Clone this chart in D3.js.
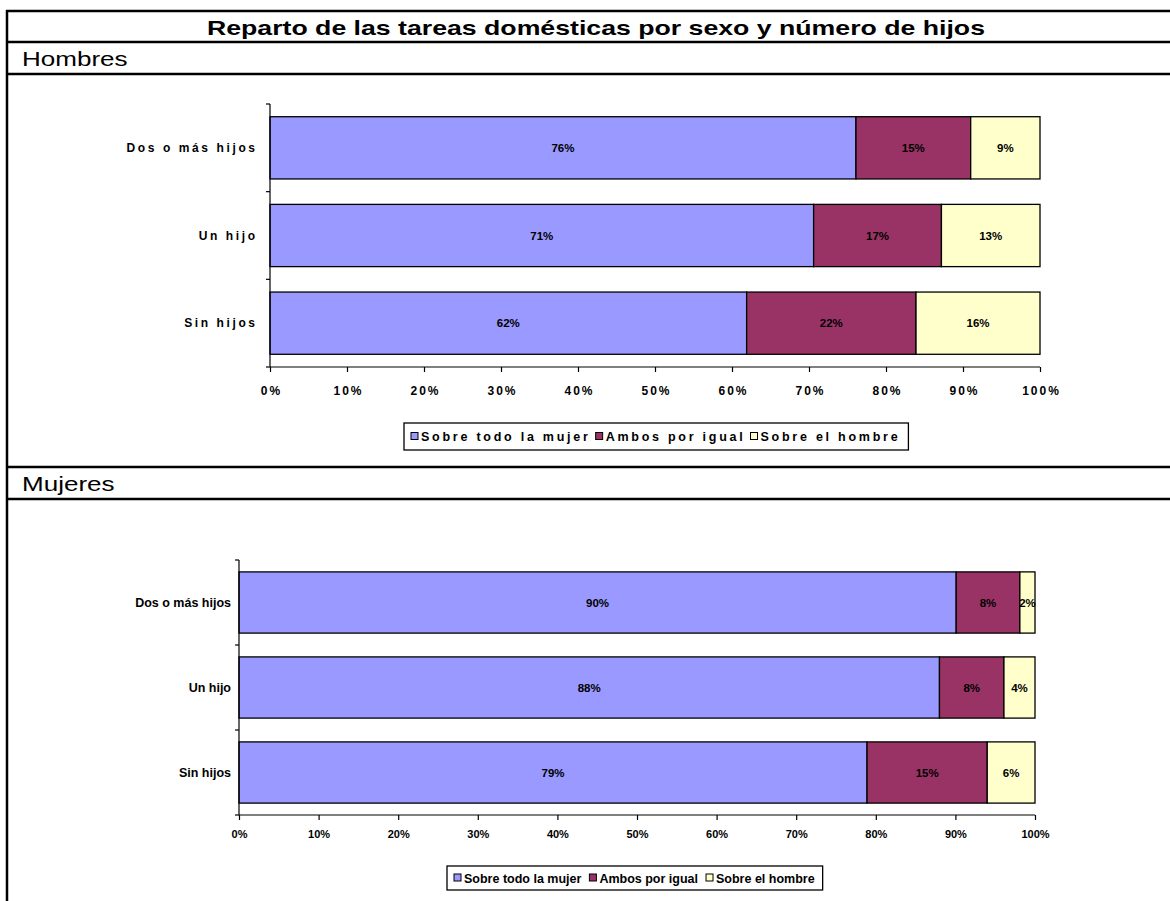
<!DOCTYPE html>
<html><head><meta charset="utf-8">
<script src="https://cdn.jsdelivr.net/npm/d3@7"></script>
<style>body{margin:0;background:#fff}svg{display:block;font-family:"Liberation Sans",Arial,sans-serif}</style>
</head><body><svg id="c" width="1170" height="901"></svg>
<script>
const title = "Reparto de las tareas domésticas por sexo y número de hijos";
const categories = ["Dos o más hijos", "Un hijo", "Sin hijos"];
const seriesNames = ["Sobre todo la mujer", "Ambos por igual", "Sobre el hombre"];
const colors = ["#9999FF", "#993366", "#FFFFCC"];
const ticks = [0, 10, 20, 30, 40, 50, 60, 70, 80, 90, 100];
// Hombres
const hombresMujer = [76.1, 70.6, 61.9];
const hombresAmbos = [14.9, 16.6, 22.0];
const hombresHombre = [9.0, 12.8, 16.1];
// Mujeres
const mujeresMujer = [90.1, 88.0, 78.9];
const mujeresAmbos = [8.0, 8.1, 15.1];
const mujeresHombre = [1.9, 3.9, 6.0];

const svg = d3.select("#c");

// table frame
const frame = svg.append("g").attr("stroke", "#000").attr("stroke-width", 2.5);
[11, 42, 74, 467, 499].forEach(y => frame.append("line").attr("x1", 6).attr("x2", 1170).attr("y1", y).attr("y2", y));
frame.append("line").attr("x1", 7).attr("x2", 7).attr("y1", 10).attr("y2", 901);

function stretchedText(txt, x, y, size, weight, sx, anchor) {
  const t = svg.append("text").attr("font-size", size).attr("font-weight", weight).text(txt);
  const w = t.node().getComputedTextLength() * sx;
  const left = anchor === "middle" ? x - w / 2 : x;
  t.attr("transform", `translate(${left},${y}) scale(${sx},1)`);
  return t;
}
stretchedText(title, 596, 35, 21, "bold", 1.27, "middle");
stretchedText("Hombres", 22, 66, 21, "normal", 1.24, "start");
stretchedText("Mujeres", 22, 491, 21, "normal", 1.24, "start");

function drawChart(cfg, mujer, ambos, hombre) {
  const g = svg.append("g");
  const rows = categories.map((c, i) => ({cat: c, vals: [mujer[i], ambos[i], hombre[i]]}));
  const x = d3.scaleLinear().domain([0, 100]).range([cfg.x0, cfg.x1]);
  const y = d3.scaleBand().domain(categories).range([cfg.y0, cfg.y1]).paddingInner(cfg.pad).paddingOuter(cfg.pad / 2);
  const stack = d3.stack().keys([0, 1, 2]).value((d, k) => d.vals[k]);
  const layers = stack(rows);
  layers.forEach((layer, k) => {
    g.append("g").selectAll("rect").data(layer).join("rect")
      .attr("x", d => x(d[0])).attr("width", d => x(d[1]) - x(d[0]))
      .attr("y", d => y(d.data.cat)).attr("height", y.bandwidth())
      .attr("fill", colors[k]).attr("stroke", "#000").attr("stroke-width", 1.3);
    g.append("g").selectAll("text").data(layer).join("text")
      .attr("x", d => (x(d[0]) + x(d[1])) / 2).attr("y", d => y(d.data.cat) + y.bandwidth() / 2 + 4)
      .attr("text-anchor", "middle").attr("font-size", cfg.valSize).attr("font-weight", "bold")
      .text(d => Math.round(d.data.vals[k]) + "%");
  });
  // y axis
  const ya = g.append("g").attr("stroke", "#000").attr("stroke-width", 1.2);
  ya.append("line").attr("x1", cfg.x0).attr("x2", cfg.x0).attr("y1", cfg.y0).attr("y2", cfg.y1);
  const bounds = [cfg.y0].concat(categories.map(c => y(c) - y.step() * y.paddingInner() / 2 + y.step()));
  bounds.forEach(b => ya.append("line").attr("x1", cfg.x0 - 4).attr("x2", cfg.x0).attr("y1", b).attr("y2", b));
  g.append("g").selectAll("text").data(categories).join("text")
    .attr("x", cfg.x0 - cfg.labGap + cfg.ls).attr("y", d => y(d) + y.bandwidth() / 2 + 4)
    .attr("text-anchor", "end").attr("font-size", cfg.labSize).attr("font-weight", "bold")
    .attr("letter-spacing", cfg.ls).text(d => d);
  // x axis
  const xa = d3.axisBottom(x).tickValues(ticks).tickSize(5).tickFormat(d => d + "%");
  const xg = g.append("g").attr("transform", `translate(0,${cfg.y1})`).call(xa);
  xg.select(".domain").attr("stroke", "#000").attr("stroke-width", 1.2).attr("d", `M${cfg.x0},0H${cfg.x1}`);
  xg.selectAll(".tick line").attr("stroke", "#000").attr("stroke-width", 1.2);
  xg.selectAll(".tick text").attr("font-family", "Liberation Sans, Arial, sans-serif")
    .attr("font-size", cfg.tickSize).attr("font-weight", "bold").attr("fill", "#000")
    .attr("letter-spacing", cfg.tls).attr("dx", cfg.tls / 2).attr("y", cfg.tickY).attr("dy", 0);
  // legend
  const lg = g.append("g");
  const box = lg.append("rect").attr("fill", "#fff").attr("stroke", "#000").attr("stroke-width", 1.3);
  let cx = cfg.legX + 7;
  const ly = cfg.legY + cfg.legH / 2;
  seriesNames.forEach((s, k) => {
    lg.append("rect").attr("x", cx).attr("y", ly - 4).attr("width", 7).attr("height", 7)
      .attr("fill", colors[k]).attr("stroke", "#000").attr("stroke-width", 1);
    const t = lg.append("text").attr("x", cx + 10).attr("y", ly + 4.5).attr("font-size", cfg.legSize)
      .attr("font-weight", "bold").attr("letter-spacing", cfg.legLs).text(s);
    cx += 10 + t.node().getComputedTextLength() + cfg.legGap;
  });
  box.attr("x", cfg.legX).attr("y", cfg.legY).attr("width", cx - cfg.legGap + 8 - cfg.legX).attr("height", cfg.legH);
}

drawChart({x0: 270, x1: 1040, y0: 104, y1: 367, pad: 0.29, valSize: 11.5, labSize: 12, labGap: 15, ls: 2.6,
  tickSize: 12, tls: 2, tickY: 28, legX: 404, legY: 423, legH: 27, legSize: 12.5, legLs: 2.75, legGap: 5},
  hombresMujer, hombresAmbos, hombresHombre);
drawChart({x0: 239, x1: 1035, y0: 560, y1: 815, pad: 0.28, valSize: 11.5, labSize: 12.5, labGap: 8, ls: 0,
  tickSize: 11, tls: 0, tickY: 23, legX: 447, legY: 866, legH: 24, legSize: 12.5, legLs: 0, legGap: 8},
  mujeresMujer, mujeresAmbos, mujeresHombre);
</script></body></html>
